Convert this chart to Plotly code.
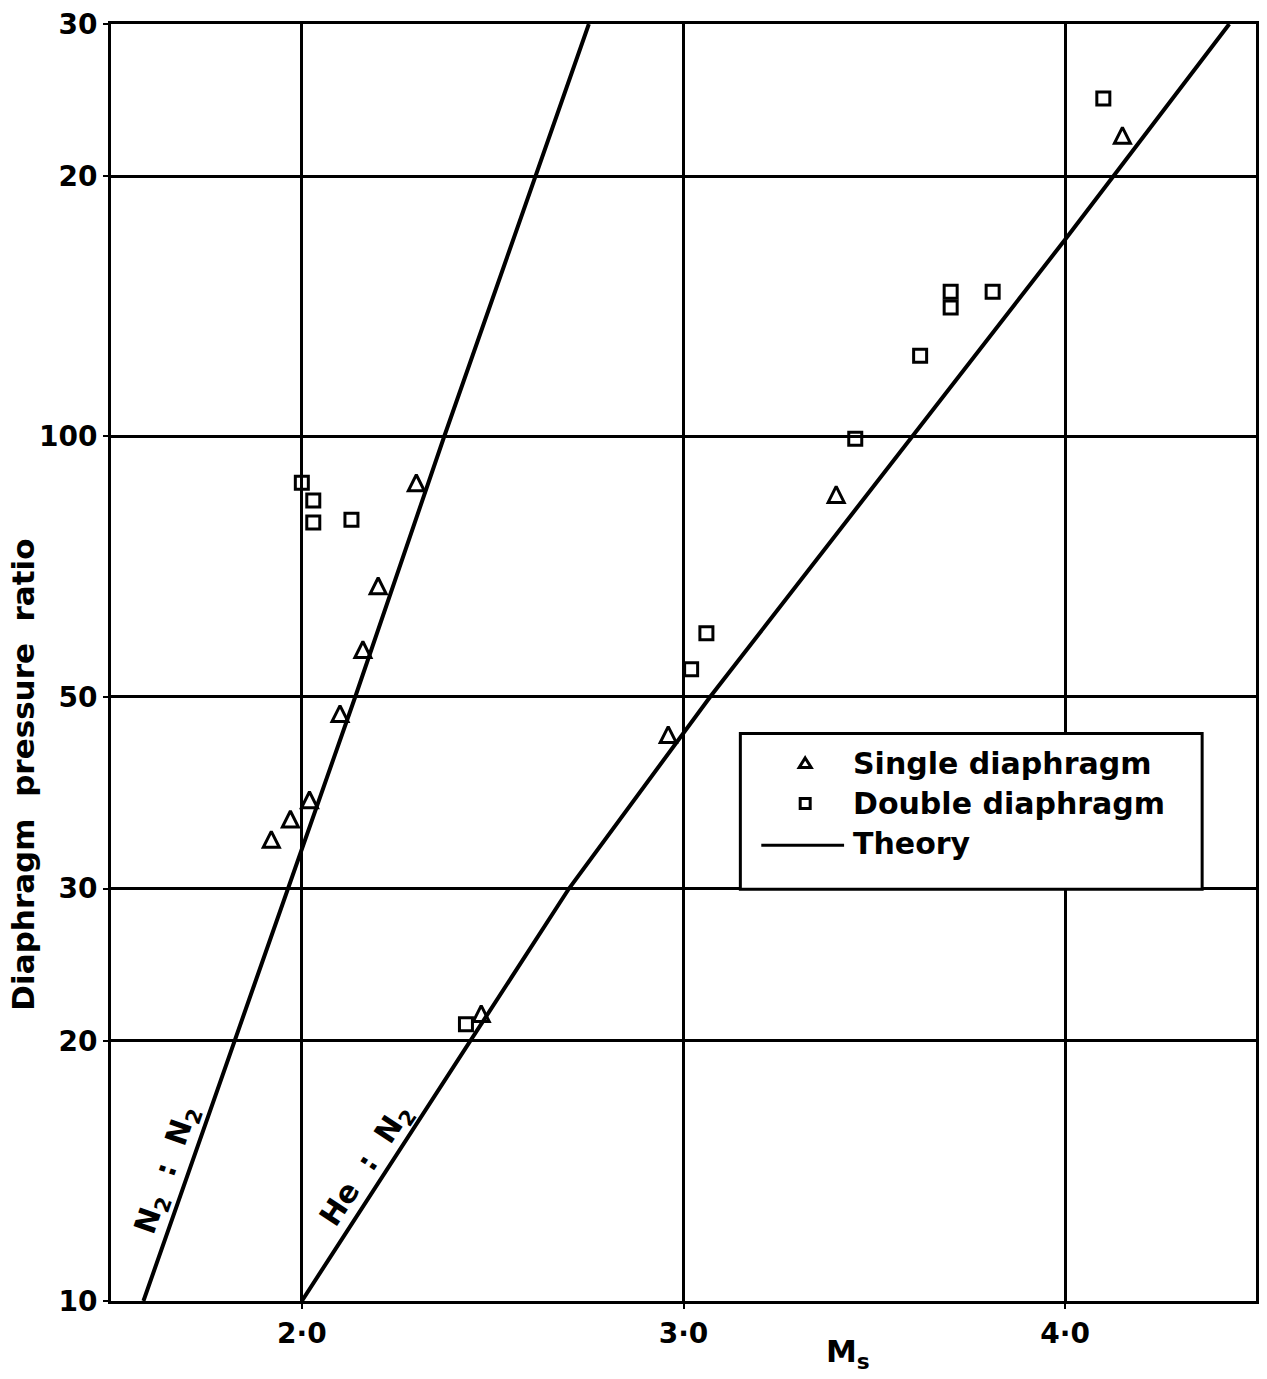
import math
import plotly.graph_objects as go

# ---- data ----
single_ms = [1.92, 1.97, 2.02, 2.10, 2.16, 2.20, 2.30, 2.47, 2.96, 3.40, 4.15]
single_ratio = [34.2, 36.1, 38.0, 47.8, 56.7, 67.2, 88.4, 21.5, 45.2, 85.7, 223]

double_ms = [2.00, 2.03, 2.03, 2.13, 2.43, 3.02, 3.06, 3.45, 3.62, 3.70, 3.70, 3.81, 4.10]
double_ratio = [88.4, 84.3, 79.5, 80.1, 20.9, 53.8, 59.2, 99.4, 124, 147, 141, 147, 246]

theory_n2_ms = [1.585, 1.825, 2.14, 2.373, 2.752]
theory_n2_ratio = [10, 20, 50, 100, 300]
theory_he_ms = [2.00, 2.44, 2.70, 3.07, 3.60, 4.00, 4.43]
theory_he_ratio = [10, 20, 30, 50, 100, 169, 300]

x_tickvals = [2, 3, 4]
x_ticktext = ["2·0", "3·0", "4·0"]
y_tickvals = [10, 20, 30, 50, 100, 200, 300]
y_ticktext = ["10", "20", "30", "50", "100", "20", "30"]

legend_labels = ["Single diaphragm", "Double diaphragm", "Theory"]

FONT = "DejaVu Sans"
BLACK = "#000000"
NB = "\u00a0"

W, H = 1267, 1379
ML, MR, MT, MB = 111, 8, 23, 78
PW, PH = W - ML - MR, H - MT - MB


def px(xp):
    return (xp - ML) / PW


def py(yp):
    return (H - MB - yp) / PH


fig = go.Figure()

fig.add_trace(go.Scatter(
    x=single_ms, y=single_ratio, mode="markers", name=legend_labels[0],
    marker=dict(symbol="arrow-down-open", angle=180, standoff=8, size=16,
                color=BLACK, line=dict(color=BLACK, width=3)),
))
fig.add_trace(go.Scatter(
    x=double_ms, y=double_ratio, mode="markers", name=legend_labels[1],
    marker=dict(symbol="square-open", size=13, color=BLACK,
                line=dict(color=BLACK, width=3)),
))
fig.add_trace(go.Scatter(
    x=theory_n2_ms, y=theory_n2_ratio, mode="lines", name=legend_labels[2],
    line=dict(color=BLACK, width=4),
))
fig.add_trace(go.Scatter(
    x=theory_he_ms, y=theory_he_ratio, mode="lines", name=legend_labels[2],
    line=dict(color=BLACK, width=4),
))

axis_common = dict(
    showgrid=True, gridcolor=BLACK, gridwidth=2.5,
    showline=True, linecolor=BLACK, linewidth=3, mirror=True,
    ticks="outside", ticklen=5, tickwidth=2, tickcolor=BLACK,
    zeroline=False,
    tickfont=dict(family=FONT, size=28, color=BLACK, weight="bold"),
)

fig.update_xaxes(range=[1.5, 4.5], tickmode="array", tickvals=x_tickvals,
                 ticktext=x_ticktext, **axis_common)
fig.update_yaxes(type="log", range=[1, math.log10(300)], tickmode="array",
                 tickvals=y_tickvals, ticktext=y_ticktext, **axis_common)

# ---- legend box drawn as in the original (boxed key) ----
shapes = [
    dict(type="rect", xref="paper", yref="paper", layer="above",
         x0=px(742), x1=px(1205), y0=py(889), y1=py(733),
         fillcolor="white", line=dict(color=BLACK, width=3)),
    dict(type="path", xref="paper", yref="paper", layer="above",
         path=f"M{px(807)},{py(757.5)} L{px(813)},{py(767)} L{px(801)},{py(767)} Z",
         fillcolor="white", line=dict(color=BLACK, width=3)),
    dict(type="rect", xref="paper", yref="paper", layer="above",
         x0=px(802), x1=px(812), y0=py(808), y1=py(798),
         fillcolor="white", line=dict(color=BLACK, width=3)),
    dict(type="line", xref="paper", yref="paper", layer="above",
         x0=px(763), x1=px(846), y0=py(845), y1=py(845),
         line=dict(color=BLACK, width=3)),
]

annotations = [
    dict(text="Diaphragm" + NB * 2 + "pressure" + NB * 2 + "ratio",
         xref="paper", yref="paper",
         x=px(23), y=py(774), showarrow=False, textangle=-90,
         xanchor="center", yanchor="middle",
         font=dict(family=FONT, size=31, color=BLACK, weight="bold")),
    dict(text="M<sub>s</sub>", xref="paper", yref="paper",
         x=px(850), y=py(1354), showarrow=False,
         xanchor="center", yanchor="middle",
         font=dict(family=FONT, size=31, color=BLACK, weight="bold")),
    dict(text="N<sub>2</sub>" + NB * 2 + ":" + NB * 2 + "N<sub>2</sub>",
         xref="x", yref="y",
         x=1.647, y=1.151, showarrow=False, textangle=-70.7,
         xanchor="center", yanchor="middle",
         font=dict(family=FONT, size=30, color=BLACK, weight="bold")),
    dict(text="He" + NB * 2 + ":" + NB * 2 + "N<sub>2</sub>",
         xref="x", yref="y",
         x=2.17, y=1.157, showarrow=False, textangle=-56.5,
         xanchor="center", yanchor="middle",
         font=dict(family=FONT, size=30, color=BLACK, weight="bold")),
]
for label, yrow in zip(legend_labels, [763, 803, 843]):
    annotations.append(dict(
        text=label, xref="paper", yref="paper", x=px(853), y=py(yrow),
        showarrow=False, xanchor="left", yanchor="middle",
        font=dict(family=FONT, size=30, color=BLACK, weight="bold")))

fig.update_layout(
    width=W, height=H,
    margin=dict(l=ML, r=MR, t=MT, b=MB),
    paper_bgcolor="white", plot_bgcolor="white",
    font=dict(family=FONT, color=BLACK, weight="bold"),
    showlegend=False,
    shapes=shapes,
    annotations=annotations,
)

fig.write_html("out.html")
